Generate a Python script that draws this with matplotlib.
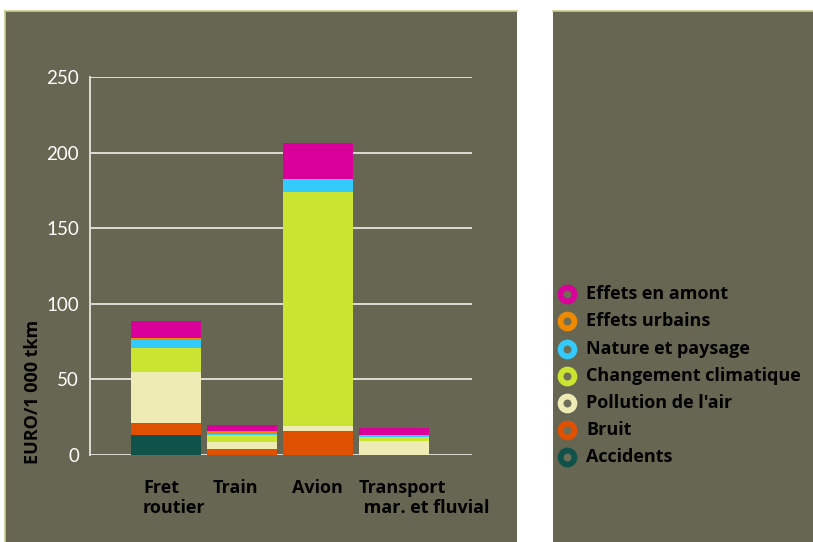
import matplotlib.pyplot as plt
import numpy as np
from matplotlib.patches import Rectangle
from matplotlib.lines import Line2D
import matplotlib.transforms as mtransforms

plt.rcParams['font.family'] = ['Lato', 'DejaVu Sans']
bold_font = ['Open Sans', 'DejaVu Sans']

categories = ['Fret\nroutier', 'Train', 'Avion', 'Transport\n mar. et fluvial']

# EURO / 1 000 tkm, per cost type (bottom to top)
accidents = [13.4, 0.0, 0.2, 0.0]
bruit = [7.6, 4.0, 15.9, 0.3]
pollution = [34.1, 4.8, 2.8, 9.0]
climat = [15.9, 4.6, 154.8, 2.5]
nature = [4.9, 0.3, 8.8, 1.3]
urbains = [1.3, 2.0, 0.0, 0.0]
amont = [11.2, 4.2, 23.9, 4.7]

series_names = ['Accidents', 'Bruit', "Pollution de l'air", 'Changement climatique',
                'Nature et paysage', 'Effets urbains', 'Effets en amont']
series_values = [accidents, bruit, pollution, climat, nature, urbains, amont]
series_colors = ['#0e524a', '#df5000', '#eeebb4', '#c9e532', '#33cbfd', '#ef8a00', '#d9009a']

yticks = [0, 50, 100, 150, 200, 250]

bg = '#666652'
border = '#c5d08a'

fig = plt.figure(figsize=(8.13, 5.42), dpi=100)
fig.patch.set_facecolor('white')

# two dark panels
fig.add_artist(Rectangle((5 / 813, 0), 512 / 813, 531 / 542, transform=fig.transFigure,
                         facecolor=bg, edgecolor='none', zorder=0))
fig.add_artist(Rectangle((553 / 813, 0), 260 / 813, 531 / 542, transform=fig.transFigure,
                         facecolor=bg, edgecolor='none', zorder=0))
fig.add_artist(Line2D([5 / 813, 517 / 813], [531 / 542, 531 / 542], transform=fig.transFigure,
                      color=border, lw=1.2))
fig.add_artist(Line2D([5 / 813, 5 / 813], [0, 531 / 542], transform=fig.transFigure,
                      color=border, lw=1.2))
fig.add_artist(Line2D([553 / 813, 1], [531 / 542, 531 / 542], transform=fig.transFigure,
                      color=border, lw=1.2))

ax = fig.add_axes([90 / 813, 87 / 542, 382 / 813, 378 / 542])
ax.set_facecolor('none')

x = np.arange(len(categories))
bottom = np.zeros(len(categories))
for name, vals, col in zip(series_names, series_values, series_colors):
    ax.bar(x, vals, bottom=bottom, width=0.915, color=col, linewidth=0, zorder=3)
    bottom += np.array(vals)

ax.set_xlim(-1.0, 4.03)
ax.set_ylim(0, 250)
ax.set_yticks(yticks)
ax.yaxis.grid(True, color='#dcdcd4', lw=1.4, zorder=1)
ax.set_axisbelow(True)
for s in ['top', 'right', 'bottom']:
    ax.spines[s].set_visible(False)
ax.spines['left'].set_color('#dcdcd4')
ax.spines['left'].set_linewidth(1.4)
ax.tick_params(axis='y', length=0, pad=8, labelsize=13.5, labelcolor='white')
ax.tick_params(axis='x', length=0, pad=17)

ax.set_xticks(x)
ax.set_xticklabels(categories, fontsize=13, fontweight='bold', color='black',
                   family=bold_font, ha='left', multialignment='left', linespacing=1.15)
shifts = [-23, -29, -26, -35]
for lab, dx in zip(ax.get_xticklabels(), shifts):
    lab.set_transform(lab.get_transform() +
                      mtransforms.ScaledTranslation(dx / 100, 0, fig.dpi_scale_trans))

fig.text(33 / 813, (542 - 392) / 542, 'EURO/1 000 tkm', rotation=90, ha='center', va='center',
         fontsize=13, fontweight='bold', color='black', family=bold_font)

# legend, top row = last stacked series
rows_y = [294, 321, 349, 376, 403, 430, 457]
for yy, name, col in zip(rows_y, series_names[::-1], series_colors[::-1]):
    fig.add_artist(Line2D([567 / 813], [(542 - yy) / 542], transform=fig.transFigure,
                          marker='o', markersize=10, markerfacecolor='#6e6d58',
                          markeredgecolor=col, markeredgewidth=4.2, linestyle='none'))
    fig.text(586 / 813, (542 - yy) / 542, name, ha='left', va='center',
             fontsize=13, fontweight='bold', color='black', family=bold_font)

fig.savefig('out.png', dpi=100, facecolor=fig.get_facecolor())
